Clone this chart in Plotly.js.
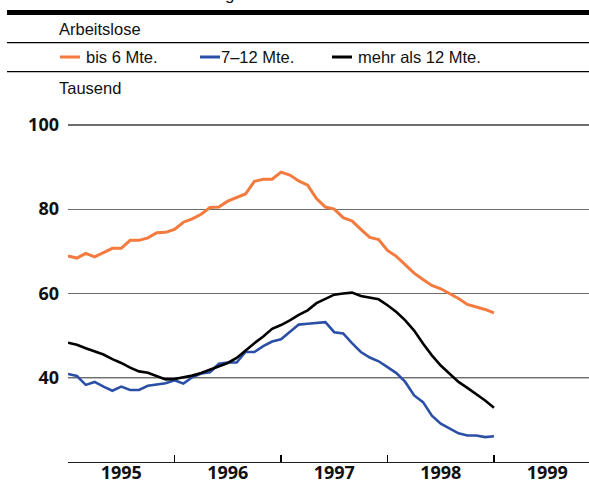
<!DOCTYPE html>
<html>
<head>
<meta charset="utf-8">
<script src="https://cdn.plot.ly/plotly-3.0.1.min.js"></script>
<style>html,body{margin:0;padding:0;background:#fff;}#chart{width:589px;height:483px;}</style>
</head>
<body>
<div id="chart"></div>
<script>
// Monthly values, Jan 1995 .. Jan 1999 (49 points), thousands
var months = [];
for (var m = 0; m <= 48; m++) months.push(m);

var bis6 = [68.9, 68.4, 69.5, 68.7, 69.7, 70.7, 70.7, 72.6, 72.6, 73.2, 74.4, 74.5,
            75.2, 76.9, 77.7, 78.8, 80.4, 80.5, 81.9, 82.8, 83.6, 86.6, 87.1, 87.1,
            88.8, 88.1, 86.7, 85.7, 82.5, 80.5, 80.0, 78.0, 77.2, 75.2, 73.3, 72.8,
            70.2, 68.8, 66.7, 64.8, 63.3, 61.9, 61.1, 60.0, 58.8, 57.4, 56.8, 56.2, 55.4];
var m7bis12 = [40.9, 40.4, 38.3, 39.0, 37.9, 36.9, 37.9, 37.1, 37.1, 38.1, 38.4, 38.7,
               39.4, 38.6, 40.1, 41.0, 41.3, 43.3, 43.6, 43.6, 46.1, 46.1, 47.5, 48.6,
               49.1, 50.8, 52.6, 52.8, 53.0, 53.2, 50.8, 50.5, 48.2, 46.1, 44.8, 43.9,
               42.5, 41.1, 39.0, 35.8, 34.2, 31.0, 29.1, 27.9, 26.8, 26.3, 26.3, 25.9, 26.1];
var mehr12 = [48.3, 47.8, 47.0, 46.2, 45.5, 44.4, 43.5, 42.4, 41.5, 41.2, 40.4, 39.6,
              39.7, 40.1, 40.5, 41.1, 41.9, 42.7, 43.5, 44.7, 46.5, 48.2, 49.8, 51.6,
              52.5, 53.6, 54.9, 56.0, 57.7, 58.8, 59.7, 60.0, 60.2, 59.4, 59.0, 58.6,
              57.2, 55.6, 53.6, 51.2, 48.1, 45.3, 42.9, 41.0, 39.0, 37.6, 36.2, 34.6, 32.9];

var seriesNames = ["bis 6 Mte.", "7\u201312 Mte.", "mehr als 12 Mte."];
var yearLabels = ["1995", "1996", "1997", "1998", "1999"];
var yearMid = [6, 18, 30, 42, 54];
var yearBounds = [12, 24, 36, 48];
var yTicks = [40, 60, 80, 100];

var colors = ["#F47A3E", "#2B4FA6", "#000000"];

// pixel -> paper helpers (layout only)
var W = 589, H = 483, ML = 68, MR = 0, MT = 116, MB = 21;
function px(x) { return (x - ML) / (W - ML - MR); }
function py(y) { return (H - MB - y) / (H - MT - MB); }

var font = "'Liberation Sans', Arial, sans-serif";
var boldFont = "'Open Sans', 'Liberation Sans', sans-serif";

var traces = [
  {x: months, y: bis6, name: seriesNames[0], mode: "lines", line: {color: colors[0], width: 3}, showlegend: false, hoverinfo: "skip"},
  {x: months, y: m7bis12, name: seriesNames[1], mode: "lines", line: {color: colors[1], width: 2.6}, showlegend: false, hoverinfo: "skip"},
  {x: months, y: mehr12, name: seriesNames[2], mode: "lines", line: {color: colors[2], width: 2.6}, showlegend: false, hoverinfo: "skip"},
  {x: yearMid, y: yearMid.map(function(){return null;}), xaxis: "x2", yaxis: "y", mode: "lines", showlegend: false, hoverinfo: "skip"}
];

var xRange = [0, (W - ML - MR) / (426 / 48)];

var shapes = [
  {type: "line", xref: "paper", yref: "paper", x0: px(7), x1: 1, y0: py(12.5), y1: py(12.5), line: {color: "#000", width: 5}},
  {type: "line", xref: "paper", yref: "paper", x0: px(7), x1: 1, y0: py(42.7), y1: py(42.7), line: {color: "#000", width: 1.3}},
  {type: "line", xref: "paper", yref: "paper", x0: px(7), x1: 1, y0: py(71.7), y1: py(71.7), line: {color: "#000", width: 1.3}},
  {type: "line", xref: "paper", yref: "y", x0: 0, x1: 1, y0: 40, y1: 40, layer: "below", line: {color: "#000", width: 1.2}},
  // legend swatches
  {type: "line", xref: "paper", yref: "paper", x0: px(60), x1: px(80), y0: py(57), y1: py(57), line: {color: colors[0], width: 3}},
  {type: "line", xref: "paper", yref: "paper", x0: px(200), x1: px(220), y0: py(57), y1: py(57), line: {color: colors[1], width: 3}},
  {type: "line", xref: "paper", yref: "paper", x0: px(332), x1: px(352), y0: py(57), y1: py(57), line: {color: colors[2], width: 3}}
];

function ann(text, x, y, opts) {
  var a = {text: text, xref: "paper", yref: "paper", x: px(x), y: py(y), xanchor: "left", yanchor: "middle",
           showarrow: false, font: {family: font, size: 16.5, color: "#111"}};
  for (var k in opts) a[k] = opts[k];
  return a;
}

var annotations = [
  ann("g", 223, -5.5, {font: {family: font, size: 17, color: "#111"}}),
  ann("Arbeitslose", 57, 29),
  ann(seriesNames[0], 84, 57),
  ann(seriesNames[1], 219, 57),
  ann(seriesNames[2], 356, 57),
  ann("Tausend", 57, 88)
];

var layout = {
  width: W, height: H,
  margin: {l: ML, r: MR, t: MT, b: MB, pad: 0},
  paper_bgcolor: "#fff", plot_bgcolor: "#fff",
  showlegend: false,
  xaxis: {range: xRange, tickvals: yearBounds, ticktext: yearBounds.map(function(){return "";}),
          ticks: "inside", ticklen: 7, tickwidth: 1.2, tickcolor: "#000",
          showline: true, linecolor: "#222", linewidth: 1.3, showgrid: false, zeroline: false, fixedrange: true},
  xaxis2: {range: xRange, overlaying: "x", anchor: "y", side: "bottom", tickvals: yearMid, ticktext: yearLabels,
           ticks: "", showline: false, showgrid: false, zeroline: false, ticklabelstandoff: -2,
           tickfont: {family: boldFont, size: 18, color: "#111", weight: 700}},
  yaxis: {range: [20, 20 + (H - MT - MB) / 4.214], tickvals: yTicks, ticktext: yTicks.map(String),
          ticks: "", showline: false, zeroline: false, showgrid: true, gridcolor: "#6e6e6e", gridwidth: 1.3,
          ticklabelstandoff: 8,
          tickfont: {family: boldFont, size: 18, color: "#111", weight: 700}},
  shapes: shapes,
  annotations: annotations
};

Plotly.newPlot("chart", traces, layout, {staticPlot: true, displayModeBar: false});
</script>
</body>
</html>
